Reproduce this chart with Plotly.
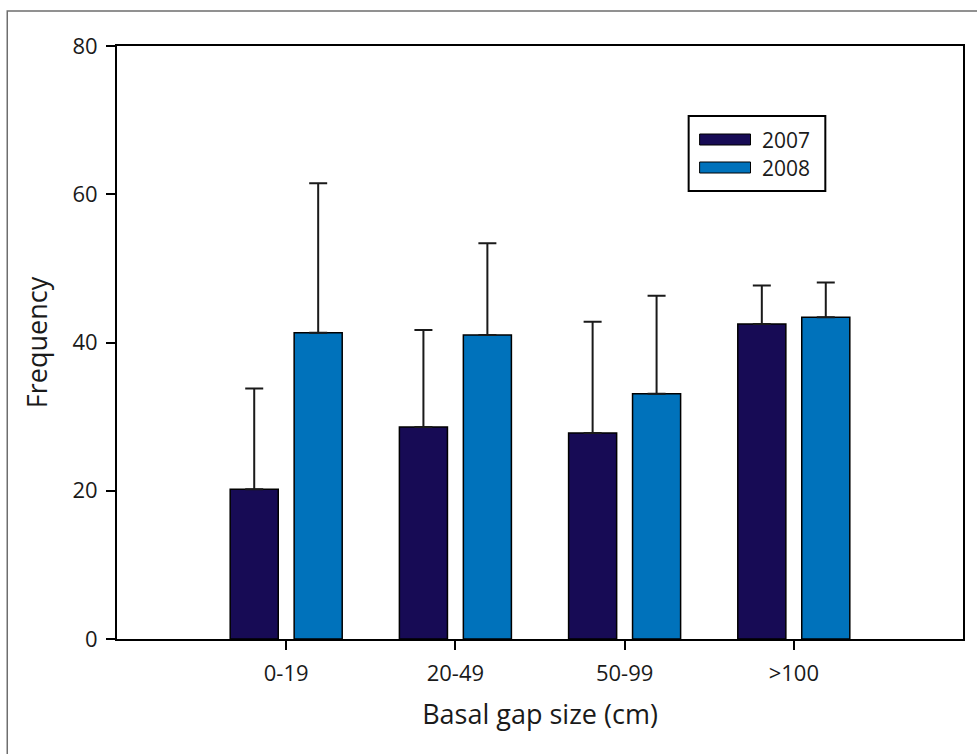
import plotly.graph_objects as go

categories = ["0-19", "20-49", "50-99", ">100"]
series_names = ["2007", "2008"]
freq_2007 = [20.2, 28.6, 27.8, 42.5]
err_2007 = [13.6, 13.1, 15.0, 5.2]
freq_2008 = [41.3, 41.0, 33.1, 43.4]
err_2008 = [20.2, 12.4, 13.2, 4.7]
y_ticks = [0, 20, 40, 60, 80]

colors = ["#170B55", "#0072BB"]
FONT = "Open Sans"

W, H = 977, 754
L, R, T, B = 117, 12, 46, 115
PW, PH = W - L - R, H - T - B


def px(x):
    return (x - L) / PW


def py(y):
    return (H - B - y) / PH


fig = go.Figure()
for name, vals, errs, col, off in [
    (series_names[0], freq_2007, err_2007, colors[0], -0.331),
    (series_names[1], freq_2008, err_2008, colors[1], 0.047),
]:
    fig.add_trace(go.Bar(
        x=categories, y=vals, name=name,
        width=0.284, offset=off,
        marker=dict(color=col, line=dict(color="#000000", width=1.5)),
        error_y=dict(type="data", symmetric=False, array=errs,
                     arrayminus=[0] * len(errs), color="#1a1a1a",
                     thickness=2, width=9),
        showlegend=False,
    ))

fig.update_layout(
    width=W, height=H,
    margin=dict(l=L, r=R, t=T, b=B),
    paper_bgcolor="white", plot_bgcolor="white",
    font=dict(family=FONT, color="#1a1a1a", size=22),
    xaxis=dict(
        type="category", range=[-1, 4],
        showline=True, linecolor="black", linewidth=2, mirror=True,
        ticks="outside", ticklen=9, tickwidth=2, tickcolor="black",
        showgrid=False, zeroline=False, ticklabelstandoff=5,
        tickfont=dict(size=22, family=FONT),
        title=dict(text="Basal gap size (cm)", font=dict(size=27, family=FONT), standoff=19),
    ),
    yaxis=dict(
        range=[0, 80], tickvals=y_ticks,
        showline=True, linecolor="black", linewidth=2, mirror=True,
        ticks="outside", ticklen=9, tickwidth=2, tickcolor="black",
        showgrid=False, zeroline=False, ticklabelstandoff=4,
        tickfont=dict(size=22, family=FONT),
        title=dict(text="Frequency", font=dict(size=27, family=FONT), standoff=17),
    ),
)

shapes = []
# outer gray frame (partially cut off at right and bottom)
shapes.append(dict(type="rect", xref="paper", yref="paper",
                   x0=px(7), x1=px(1000), y0=py(790), y1=py(11),
                   line=dict(color="#6e6e6e", width=1.5), fillcolor="rgba(0,0,0,0)",
                   layer="above"))
# legend frame
shapes.append(dict(type="rect", xref="paper", yref="paper",
                   x0=px(690), x1=px(827), y0=py(191), y1=py(116),
                   line=dict(color="black", width=2), fillcolor="white"))
annotations = []
for i, (name, col) in enumerate(zip(series_names, colors)):
    y0 = 134 + i * 28
    shapes.append(dict(type="rect", xref="paper", yref="paper",
                       x0=px(701), x1=px(752), y0=py(y0 + 11), y1=py(y0),
                       line=dict(color="black", width=1), fillcolor=col))
    annotations.append(dict(xref="paper", yref="paper", x=px(762), y=py(y0 + 6),
                            text=name, showarrow=False, xanchor="left", yanchor="middle",
                            font=dict(size=21, family=FONT, color="#1a1a1a")))

fig.update_layout(shapes=shapes, annotations=annotations)
fig.write_html("out.html")
